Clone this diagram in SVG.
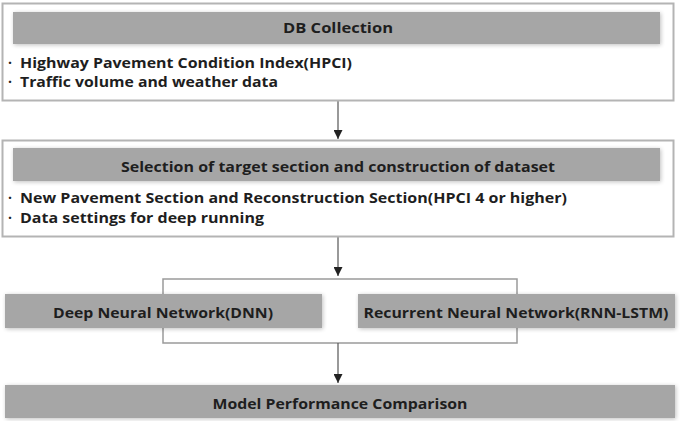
<svg xmlns="http://www.w3.org/2000/svg" width="683" height="421" viewBox="0 0 683 421">
<style>
.frame{fill:#ffffff;stroke:#b4b4b4;stroke-width:2}
.bar{fill:#a6a6a6;filter:url(#soft)}
.t{font-family:"Open Sans","Liberation Sans",sans-serif;font-weight:bold;font-size:14px;fill:#1e1e1e}
.c{text-anchor:middle}
.line{fill:none;stroke:#555555;stroke-width:1.2}
.br{fill:none;stroke:#9a9a9a;stroke-width:1.5}
</style>
<defs>
<filter id="soft" x="-5%" y="-30%" width="110%" height="160%">
<feGaussianBlur in="SourceAlpha" stdDeviation="2"/>
<feOffset dx="1" dy="1"/>
<feComponentTransfer><feFuncA type="linear" slope="0.25"/></feComponentTransfer>
<feMerge><feMergeNode/><feMergeNode in="SourceGraphic"/></feMerge>
</filter>
<marker id="arr" viewBox="0 0 10 10" refX="10" refY="5" markerWidth="9" markerHeight="9" markerUnits="userSpaceOnUse" orient="auto">
<path d="M0,0 L10,5 L0,10 z" fill="#222222"/>
</marker>
</defs>

<g id="connectors">
<line class="line" x1="338" y1="101" x2="338" y2="139" marker-end="url(#arr)"/>
<line class="line" x1="338" y1="237" x2="338" y2="276" marker-end="url(#arr)"/>
<rect class="br" x="163" y="279" width="354" height="64"/>
<line class="line" x1="338" y1="343" x2="338" y2="383" marker-end="url(#arr)"/>
</g>

<g id="db-collection">
<rect class="frame" x="2.5" y="3.5" width="671" height="97"/>
<rect class="bar" x="13" y="12" width="647" height="32"/>
<text class="t c" x="338" y="33" textLength="110" lengthAdjust="spacingAndGlyphs">DB Collection</text>
<text class="t" x="8" y="68">·</text>
<text class="t" x="20" y="68" textLength="332" lengthAdjust="spacingAndGlyphs">Highway Pavement Condition Index(HPCI)</text>
<text class="t" x="8" y="87">·</text>
<text class="t" x="20" y="87" textLength="258" lengthAdjust="spacingAndGlyphs">Traffic volume and weather data</text>
</g>

<g id="selection">
<rect class="frame" x="2.5" y="140.5" width="671" height="96"/>
<rect class="bar" x="13" y="148" width="647" height="33"/>
<text class="t c" x="338" y="172" textLength="434" lengthAdjust="spacingAndGlyphs">Selection of target section and construction of dataset</text>
<text class="t" x="8" y="203">·</text>
<text class="t" x="20" y="203" textLength="547" lengthAdjust="spacingAndGlyphs">New Pavement Section and Reconstruction Section(HPCI 4 or higher)</text>
<text class="t" x="8" y="223">·</text>
<text class="t" x="20" y="223" textLength="244" lengthAdjust="spacingAndGlyphs">Data settings for deep running</text>
</g>

<g id="dnn">
<rect class="bar" x="5" y="294" width="317" height="34"/>
<text class="t c" x="163" y="318" textLength="220" lengthAdjust="spacingAndGlyphs">Deep Neural Network(DNN)</text>
</g>

<g id="rnn">
<rect class="bar" x="358" y="294" width="317" height="34"/>
<text class="t c" x="516" y="318" textLength="305" lengthAdjust="spacingAndGlyphs">Recurrent Neural Network(RNN-LSTM)</text>
</g>

<g id="comparison">
<rect class="bar" x="5" y="385" width="670" height="33"/>
<text class="t c" x="340" y="409" textLength="255" lengthAdjust="spacingAndGlyphs">Model Performance Comparison</text>
</g>
</svg>
